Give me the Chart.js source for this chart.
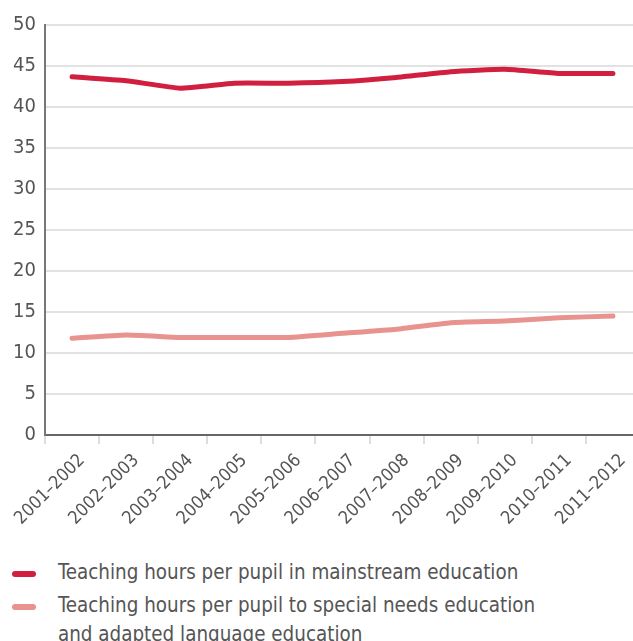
<!DOCTYPE html>
<html>
<head>
<meta charset="utf-8">
<script src="https://cdn.jsdelivr.net/npm/chart.js@4"></script>
<style>
  html, body { margin: 0; padding: 0; background: #fff; overflow: hidden; width: 633px; height: 641px; }
  #wrap { position: relative; width: 640px; height: 545px; }
  #legend { position: absolute; left: 0; top: 558px; font-family: "Liberation Sans Narrow", "DejaVu Sans Condensed", sans-serif; font-size: 20.4px; color: #555; }
  .item { position: relative; padding-left: 58px; line-height: 29px; margin-bottom: 4px; }
  .sw { position: absolute; left: 12px; top: 13px; width: 24px; height: 6px; border-radius: 3px; }
</style>
</head>
<body>
<div id="wrap"><canvas id="c" width="640" height="545"></canvas></div>
<div id="legend">
  <div class="item"><span class="sw" style="background:#d11f3f"></span>Teaching hours per pupil in mainstream education</div>
  <div class="item"><span class="sw" style="background:#e8938f"></span>Teaching hours per pupil to special needs education<br>and adapted language education</div>
</div>
<script>
const categories = ["2001–2002","2002–2003","2003–2004","2004–2005","2005–2006","2006–2007","2007–2008","2008–2009","2009–2010","2010–2011","2011–2012"];
const mainstream = [43.7, 43.2, 42.3, 42.9, 42.9, 43.1, 43.6, 44.3, 44.6, 44.1, 44.1];
const specialNeeds = [11.8, 12.2, 11.9, 11.9, 11.9, 12.4, 12.9, 13.7, 13.9, 14.3, 14.5];
const seriesLabels = ["Teaching hours per pupil in mainstream education", "Teaching hours per pupil to special needs education and adapted language education"];
const yTicks = [0,5,10,15,20,25,30,35,40,45,50];

const FONT = '"Liberation Sans Narrow", "DejaVu Sans Condensed", sans-serif';

new Chart(document.getElementById('c'), {
  type: 'line',
  data: {
    labels: categories,
    datasets: [
      { label: seriesLabels[0], data: mainstream, borderColor: '#d11f3f', borderWidth: 5, pointRadius: 0, tension: 0.15, borderCapStyle: 'round', borderJoinStyle: 'round' },
      { label: seriesLabels[1], data: specialNeeds, borderColor: '#e8938f', borderWidth: 5, pointRadius: 0, tension: 0.15, borderCapStyle: 'round', borderJoinStyle: 'round' }
    ]
  },
  options: {
    responsive: false,
    animation: false,
    layout: { padding: { top: 25, right: 0, left: 0, bottom: 0 } },
    plugins: { legend: { display: false }, tooltip: { enabled: false } },
    scales: {
      x: {
        offset: true,
        grid: { offset: true, drawOnChartArea: false, drawTicks: true, tickLength: 9, color: '#dddddd', lineWidth: 2 },
        border: { color: '#666', width: 2 },
        ticks: { color: '#555', font: { family: FONT, size: 18 }, maxRotation: 45, minRotation: 45, padding: 6, labelOffset: 10, autoSkip: false },
        afterFit: (s) => { s.height = 545 - 435; }
      },
      y: {
        min: 0, max: 50,
        afterBuildTicks: (s) => { s.ticks = yTicks.map(v => ({ value: v })); },
        grid: { color: '#e2e2e2', lineWidth: 2, drawTicks: false },
        border: { color: '#777', width: 2 },
        ticks: { color: '#555', font: { family: FONT, size: 20 }, padding: 9 },
        afterFit: (s) => { s.width = 45; }
      }
    }
  }
});
</script>
</body>
</html>
